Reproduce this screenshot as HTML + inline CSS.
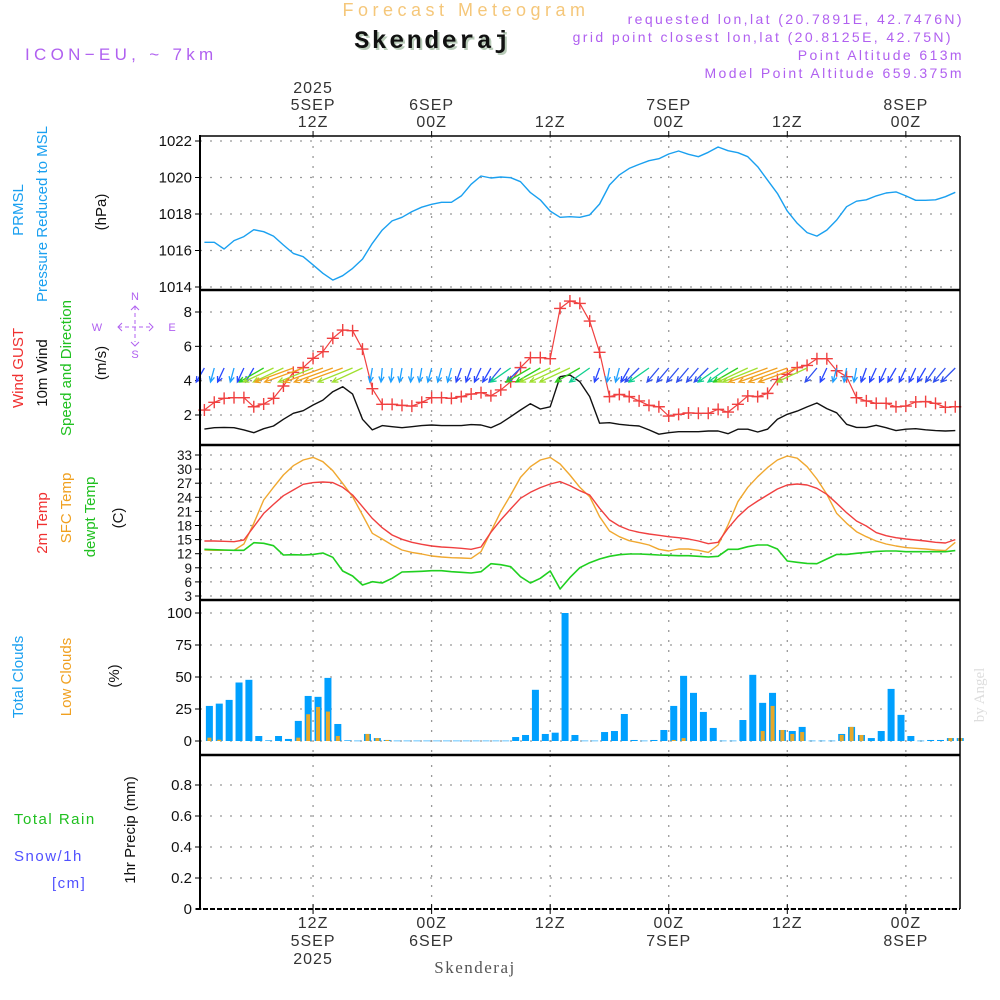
<!DOCTYPE html>
<html><head><meta charset="utf-8"><style>
html,body{margin:0;padding:0;background:#fff;}
svg{display:block;font-family:"Liberation Sans",sans-serif;}
.tl{font-size:16px;fill:#333;letter-spacing:1px;}
.grid{stroke:#999;stroke-width:1.3;stroke-dasharray:2,8;}
</style></head><body>
<svg id="chart" width="1000" height="1000" viewBox="0 0 1000 1000" xmlns="http://www.w3.org/2000/svg">
<rect width="1000" height="1000" fill="#fff"/>
<!-- header -->
<text x="466" y="16" text-anchor="middle" font-size="18" fill="#F5C77A" letter-spacing="4.5">Forecast Meteogram</text>
<text x="435" y="50" text-anchor="middle" font-family="Liberation Mono, monospace" font-weight="bold" font-size="25" letter-spacing="2.5" fill="#b8cbb8">Skenderaj</text>
<text x="433" y="48" text-anchor="middle" font-family="Liberation Mono, monospace" font-weight="bold" font-size="25" letter-spacing="2.5" fill="#111">Skenderaj</text>
<text x="25" y="60" font-size="17" fill="#B060F0" letter-spacing="4.3">ICON−EU, ~ 7km</text>
<g font-size="14" fill="#B060F0" text-anchor="end" letter-spacing="2.4">
<text x="964" y="24">requested lon,lat (20.7891E, 42.7476N)</text>
<text x="953" y="42">grid point closest lon,lat (20.8125E, 42.75N)</text>
<text x="964" y="60">Point Altitude 613m</text>
<text x="964" y="78">Model Point Altitude 659.375m</text>
</g>
<!-- left labels -->
<g font-size="15">
<text transform="translate(23,210) rotate(-90)" text-anchor="middle" fill="#1AA0F0">PRMSL</text>
<text transform="translate(47,214) rotate(-90)" text-anchor="middle" fill="#1AA0F0">Pressure Reduced to MSL</text>
<text transform="translate(106,212) rotate(-90)" text-anchor="middle" fill="#111">(hPa)</text>
<text transform="translate(23,368) rotate(-90)" text-anchor="middle" fill="#F03030">Wind GUST</text>
<text transform="translate(47,373) rotate(-90)" text-anchor="middle" fill="#111">10m Wind</text>
<text transform="translate(71,368) rotate(-90)" text-anchor="middle" fill="#20C020">Speed and Direction</text>
<text transform="translate(106,363) rotate(-90)" text-anchor="middle" fill="#111">(m/s)</text>
<text transform="translate(47,523) rotate(-90)" text-anchor="middle" fill="#F03030">2m Temp</text>
<text transform="translate(71,508) rotate(-90)" text-anchor="middle" fill="#F0A020">SFC Temp</text>
<text transform="translate(95,517) rotate(-90)" text-anchor="middle" fill="#20C020">dewpt Temp</text>
<text transform="translate(123,518) rotate(-90)" text-anchor="middle" fill="#111">(C)</text>
<text transform="translate(23,677) rotate(-90)" text-anchor="middle" fill="#1AA0F0">Total Clouds</text>
<text transform="translate(71,677) rotate(-90)" text-anchor="middle" fill="#F0A020">Low Clouds</text>
<text transform="translate(119,676) rotate(-90)" text-anchor="middle" fill="#111">(%)</text>
<text transform="translate(135,830) rotate(-90)" text-anchor="middle" fill="#111">1hr Precip (mm)</text>
</g>
<g font-size="15" letter-spacing="1.5">
<text x="14" y="824" fill="#20C020">Total   Rain</text>
<text x="14" y="861" fill="#5050FF">Snow/1h</text>
<text x="52" y="888" fill="#5050FF">[cm]</text>
</g>
<g font-size="11" fill="#B060F0" text-anchor="middle">
<text x="135" y="300">N</text><text x="135" y="358">S</text><text x="97" y="331">W</text><text x="172" y="331">E</text>
<path d="M135,306v36M118,327h35" stroke="#B060F0" stroke-width="1" stroke-dasharray="4,3" fill="none"/>
<path d="M131,310l4,-4l4,4M122,323l-4,4l4,4M149,323l4,4l-4,4M131,342l4,4l4,-4" stroke="#B060F0" stroke-width="1" fill="none"/>
</g>
<text transform="translate(984,695) rotate(-90)" text-anchor="middle" font-family="Liberation Serif, serif" font-size="15" fill="#ddd">by Angel</text>
<text x="475" y="973" text-anchor="middle" font-family="Liberation Serif, serif" font-size="17" letter-spacing="1.5" fill="#555">Skenderaj</text>
<g id="plot"></g>
</svg>
<script>
// ---- data (hourly, hours 1..77 from 00Z 5 SEP 2025) ----
const pressure=[1016.45,1016.45,1016.08,1016.54,1016.76,1017.14,1017.03,1016.79,1016.30,1015.84,1015.66,1015.21,1014.75,1014.38,1014.62,1015.02,1015.53,1016.39,1017.12,1017.62,1017.82,1018.13,1018.37,1018.53,1018.64,1018.64,1018.99,1019.63,1020.08,1019.97,1020.03,1019.99,1019.77,1019.17,1018.77,1018.16,1017.82,1017.85,1017.82,1017.95,1018.55,1019.59,1020.14,1020.50,1020.72,1020.92,1021.03,1021.29,1021.45,1021.27,1021.14,1021.38,1021.67,1021.47,1021.36,1021.14,1020.59,1019.86,1019.13,1018.16,1017.49,1016.98,1016.79,1017.12,1017.67,1018.40,1018.70,1018.78,1018.99,1019.15,1019.21,1018.99,1018.75,1018.75,1018.78,1018.95,1019.19];
const windGust=[2.29,2.74,2.97,3.01,3.01,2.48,2.64,2.97,3.69,4.48,4.76,5.30,5.69,6.47,6.95,6.91,5.84,3.53,2.62,2.62,2.56,2.52,2.74,3.01,3.01,2.97,3.07,3.22,3.30,3.12,3.46,3.94,4.76,5.34,5.34,5.28,8.21,8.64,8.50,7.47,5.65,3.07,3.20,3.07,2.82,2.56,2.48,1.94,2.04,2.12,2.10,2.10,2.33,2.17,2.62,3.11,3.07,3.26,4.07,4.37,4.76,4.89,5.28,5.28,4.58,4.23,3.01,2.82,2.68,2.68,2.48,2.52,2.76,2.78,2.68,2.45,2.48];
const wind10=[1.18,1.26,1.28,1.26,1.13,0.97,1.20,1.36,1.75,2.10,2.25,2.58,2.87,3.36,3.65,3.22,1.75,1.13,1.38,1.32,1.26,1.32,1.38,1.42,1.38,1.38,1.38,1.44,1.42,1.26,1.52,1.90,2.29,2.66,2.35,2.48,4.23,4.33,3.94,3.07,1.52,1.55,1.46,1.40,1.36,1.13,0.88,0.97,1.03,1.03,1.03,1.07,1.07,0.91,1.17,1.17,1.01,1.17,1.75,2.04,2.23,2.47,2.70,2.37,2.13,1.46,1.28,1.28,1.40,1.26,1.09,1.17,1.20,1.14,1.09,1.07,1.09];
const windDir=[30,15,25,15,25,30,60,65,65,70,70,68,70,70,70,68,65,10,5,5,10,5,10,15,15,15,20,20,25,30,40,55,45,60,60,65,65,65,60,55,20,10,15,30,45,55,40,40,40,40,40,45,55,55,60,65,68,70,70,70,70,65,40,25,15,10,10,20,25,25,30,25,25,30,35,40,45];
const temp2m=[14.70,14.70,14.63,14.56,14.91,17.74,20.58,22.49,24.35,25.55,26.77,27.12,27.26,27.12,26.13,24.49,22.00,19.52,17.54,15.98,15.06,14.43,14.00,13.64,13.43,13.29,13.14,12.93,13.43,16.55,19.19,21.53,23.79,25.07,26.06,26.83,27.33,26.48,25.41,24.49,21.66,19.19,17.89,17.04,16.55,16.19,15.91,15.62,15.40,15.13,14.70,14.13,14.43,17.40,19.87,21.81,23.21,24.49,25.77,26.62,26.83,26.62,25.91,24.64,22.72,20.73,18.96,17.89,16.48,15.84,15.40,15.13,14.91,14.70,14.43,14.28,14.99];
const tempSfc=[12.79,12.72,12.72,12.72,14.06,18.46,23.43,26.13,28.74,30.72,31.94,32.50,31.58,29.67,26.96,24.13,20.23,16.34,15.13,13.85,12.79,12.28,11.94,11.51,11.30,11.15,11.09,11.01,12.43,16.69,20.94,24.49,28.24,30.52,31.94,32.50,31.09,28.74,26.13,24.13,19.87,16.83,15.62,14.77,14.35,13.85,12.93,12.57,13.00,13.00,12.72,12.28,13.85,18.11,23.06,26.13,28.38,30.31,31.94,32.79,32.31,30.52,27.89,24.64,20.58,18.46,16.69,15.62,14.70,14.06,13.64,13.29,13.14,13.00,12.79,12.65,14.43];
const dewpt=[12.93,12.86,12.79,12.72,12.72,14.35,14.21,13.71,11.72,11.79,11.72,11.86,12.15,11.23,8.32,7.26,5.34,6.05,5.77,6.77,8.11,8.18,8.25,8.39,8.39,8.18,8.04,7.89,8.18,9.87,9.67,9.23,7.11,5.77,6.77,8.32,4.49,6.91,9.03,10.09,10.87,11.45,11.79,11.94,11.94,11.86,11.72,11.65,11.58,11.58,11.45,11.30,11.45,12.93,12.93,13.49,13.85,13.85,13.00,10.45,10.16,9.94,9.87,10.87,11.86,11.86,12.08,12.28,12.50,12.57,12.57,12.43,12.43,12.43,12.43,12.43,12.65];
const totalClouds=[27.4,29.2,32.1,45.7,47.8,3.9,0.5,3.9,1.6,15.7,35.2,34.5,49.3,13.3,0.5,0.3,5.5,2.3,0.8,0.3,0.3,0.3,0.3,0.3,0.3,0.3,0.3,0.3,0.3,0.3,0.3,3.1,4.7,40,5.5,6.5,100,4.7,0.3,0.3,7.0,7.8,21.1,0.8,0.3,0.8,8.6,27.4,50.9,37.6,22.7,10.2,0.3,0.3,16.4,51.7,29.8,37.6,8.6,7.8,11,0.3,0.3,0.3,5.5,11,4.7,2.3,7.8,40.7,20.4,3.9,0.3,0.8,0.8,2.3,2.3];
const lowClouds=[2.6,1,0,0,0,0,0,0,0,2.6,20.9,26.6,23,3.9,0,0,5.5,2.3,0.8,0,0,0,0,0,0,0,0,0,0,0,0,0,0,0,0,0,0,0,0,0,0,0,0,0,0,0,0,0.8,2.3,0,0,0,0,0,0,0,7.8,27.4,8.6,5.5,7,0,0,0,4.7,11,4.7,0,0,0,0,0,0,0,0,2.3,2.3];
const precip=[];
const pressTicks=[1014,1016,1018,1020,1022];
const windTicks=[2,4,6,8];
const tempTicks=[3,6,9,12,15,18,21,24,27,30,33];
const cloudTicks=[0,25,50,75,100];
const precipTicks=[0,0.2,0.4,0.6,0.8];
const timeTicks=[12,24,36,48,60,72];
const topLabels=[["2025","5SEP","12Z"],["","6SEP","00Z"],["","","12Z"],["","7SEP","00Z"],["","","12Z"],["","8SEP","00Z"]];
const botLabels=[["12Z","5SEP","2025"],["00Z","6SEP",""],["12Z","",""],["00Z","7SEP",""],["12Z","",""],["00Z","8SEP",""]];

// ---- axes ----
const X0=200,X1=960;
const xh=h=>194.5+h*9.88;
const lin=(d0,d1,r0,r1)=>v=>r0+(v-d0)*(r1-r0)/(d1-d0);
const yP=lin(1014,1022,287,141);
const yW=lin(2,8,415,312);
const yT=lin(3,33,596,455);
const yC=lin(0,100,741,613);
const yR=lin(0,0.8,909,785);
const panels=[[136,290],[290,445],[445,600],[600,755],[755,909]];

const NS="http://www.w3.org/2000/svg";
const plot=document.getElementById('plot');
function mk(tag,attrs,parent){const e=document.createElementNS(NS,tag);for(const k in attrs)e.setAttribute(k,attrs[k]);(parent||plot).appendChild(e);return e;}

panels.forEach((p,i)=>{
  timeTicks.forEach(h=>{
    const g=mk('line',{x1:xh(h),x2:xh(h),y1:p[0],y2:p[1],class:'grid'});
    
    
  });
});
function yAxis(ticks,fy,fmt,fs,name){
  ticks.forEach(v=>{
    const y=fy(v);
    const g=mk('line',{x1:X0,x2:X1,y1:y,y2:y,class:'grid'});
    
    
    mk('line',{x1:X0-5,x2:X0,y1:y,y2:y,stroke:'#000','stroke-width':1});
    const t=mk('text',{x:X0-8,y:y+5,'text-anchor':'end','font-size':fs,fill:'#111'});
    t.textContent=fmt(v);
    
    
  });
}
yAxis(pressTicks,yP,v=>v,15,'pressure');
yAxis(windTicks,yW,v=>v,15,'wind');
yAxis(tempTicks,yT,v=>v,13.5,'temp');
yAxis(cloudTicks,yC,v=>v,15,'cloud');
yAxis(precipTicks,yR,v=>v,15,'precip');

timeTicks.forEach((h,i)=>{
  const x=xh(h);
  mk('line',{x1:x,x2:x,y1:131,y2:136,stroke:'#000'});
  mk('line',{x1:x,x2:x,y1:904,y2:914,stroke:'#000'});
  topLabels[i].forEach((s,j)=>{ if(!s)return;
    const t=mk('text',{x:x,y:93+j*17,'text-anchor':'middle',class:'tl'});t.textContent=s;
    
    
  });
  botLabels[i].forEach((s,j)=>{ if(!s)return;
    const t=mk('text',{x:x,y:928+j*18,'text-anchor':'middle',class:'tl'});t.textContent=s;
    
    
  });
});

function line(arr,fy,color,name,w){
  const pts=arr.map((v,i)=>xh(i+1).toFixed(1)+','+fy(v).toFixed(1)).join(' ');
  const p=mk('polyline',{points:pts,fill:'none',stroke:color,'stroke-width':w||1.4,'stroke-linejoin':'round'});
  
  
  return p;
}
totalClouds.forEach((v,i)=>{
  const cx=xh(i+1)+5;
  const y=yC(v);
  const b=mk('rect',{x:cx-3.5,y:y,width:7,height:Math.max(0.6,yC(0)-y),fill:'#00A0FF'});
  
  
});
lowClouds.forEach((v,i)=>{
  if(v<=0)return;
  const cx=xh(i+1)+5;
  const y=yC(v);
  const b=mk('rect',{x:cx-2,y:y,width:4,height:yC(0)-y,fill:'#E8A828'});
  
  
});
precip.forEach((v,i)=>{
  const y=yR(v);
  const b=mk('rect',{x:xh(i+1)+1.5,y:y,width:7,height:yR(0)-y,fill:'#20C020'});
  
  
});
line(pressure,yP,'#1AA0F0','pressure-line',1.4);
line(tempSfc,yT,'#F0A830','sfc-temp-line',1.4);
line(temp2m,yT,'#F04040','t2m-line',1.4);
line(dewpt,yT,'#20D020','dewpt-line',1.6);
line(wind10,yW,'#111','wind10-line',1.4);
line(windGust,yW,'#F04040','wind-gust-line',1.2);
windGust.forEach((v,i)=>{
  const x=xh(i+1),y=yW(v);
  const g=mk('path',{d:`M${x-6},${y}h12M${x},${y-6}v12`,stroke:'#F04040','stroke-width':1.4});
  
  
});
function dirColor(d){
  if(d<18)return '#1EA0FF';
  if(d<35)return '#2846FF';
  if(d<50)return '#3050F0';
  if(d<58)return '#10D090';
  if(d<64)return '#30D020';
  if(d<69)return '#A0E030';
  return '#F0A020';
}
windDir.forEach((d,i)=>{
  const x=xh(i+1),y=368;
  const dy=14, dx=-dy*Math.tan(Math.min(d,72)*Math.PI/180);
  const ex=x+dx, ey=y+dy;
  const L=Math.hypot(dx,dy), ux=dx/L, uy=dy/L;
  const hl=6, a=0.45;
  const h1x=ex-hl*(ux*Math.cos(a)-uy*Math.sin(a)), h1y=ey-hl*(uy*Math.cos(a)+ux*Math.sin(a));
  const h2x=ex-hl*(ux*Math.cos(-a)-uy*Math.sin(-a)), h2y=ey-hl*(uy*Math.cos(-a)+ux*Math.sin(-a));
  const c=dirColor(d);
  const ar=mk('path',{d:`M${x},${y}L${ex},${ey}M${h1x},${h1y}L${ex},${ey}L${h2x},${h2y}`,stroke:c,'stroke-width':1.3,fill:'none'});
  
  
});

panels.forEach((p,i)=>{
  mk('line',{x1:X1,x2:X1,y1:p[0],y2:p[1],stroke:'#000','stroke-width':1.5});
});
mk('line',{x1:X0,x2:X0,y1:135,y2:909,stroke:'#000','stroke-width':2});
mk('line',{x1:X0,x2:X1,y1:136,y2:136,stroke:'#000','stroke-width':1.5});
[290,445,600,755].forEach(y=>mk('line',{x1:X0,x2:X1,y1:y,y2:y,stroke:'#000','stroke-width':2.5}));
mk('line',{x1:X0-4,x2:X1,y1:909,y2:909,stroke:'#000','stroke-width':2,'stroke-dasharray':'5,2'});
</script>
</body></html>
